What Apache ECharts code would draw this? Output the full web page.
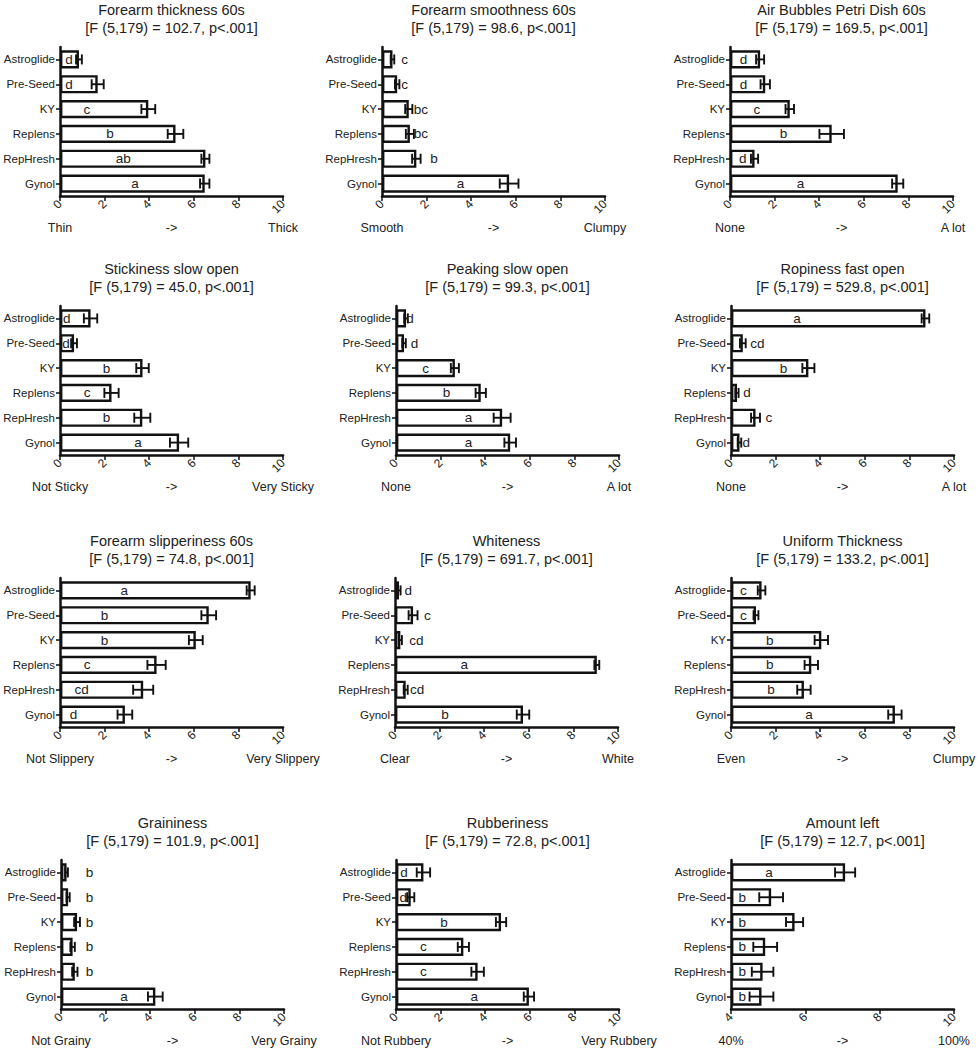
<!DOCTYPE html>
<html><head><meta charset="utf-8">
<script src="https://cdn.jsdelivr.net/npm/echarts@6/dist/echarts.min.js"></script>
<style>html,body{margin:0;padding:0;background:#fff}#c{width:978px;height:1050px}</style>
</head><body><div id="c"></div><script>
// ---------------- DATA ----------------
const categories = ['Astroglide', 'Pre-Seed', 'KY', 'Replens', 'RepHresh', 'Gynol'];
const xTicks = [0, 2, 4, 6, 8, 10];
const amountTicks = [4, 6, 8, 10];

const titles = ['Forearm thickness 60s', 'Forearm smoothness 60s', 'Air Bubbles Petri Dish 60s',
  'Stickiness slow open', 'Peaking slow open', 'Ropiness fast open',
  'Forearm slipperiness 60s', 'Whiteness', 'Uniform Thickness',
  'Graininess', 'Rubberiness', 'Amount left'];
const fStats = ['102.7', '98.6', '169.5', '45.0', '99.3', '529.8', '74.8', '691.7', '133.2', '101.9', '72.8', '12.7'];
const lowLabels = ['Thin', 'Smooth', 'None', 'Not Sticky', 'None', 'None', 'Not Slippery', 'Clear', 'Even', 'Not Grainy', 'Not Rubbery', '40%'];
const highLabels = ['Thick', 'Clumpy', 'A lot', 'Very Sticky', 'A lot', 'A lot', 'Very Slippery', 'White', 'Clumpy', 'Very Grainy', 'Very Rubbery', '100%'];

const thicknessMean = [0.85, 1.69, 3.96, 5.18, 6.52, 6.49];
const thicknessErr = [0.13, 0.27, 0.31, 0.35, 0.18, 0.21];
const thicknessLetters = ['d', 'd', 'c', 'b', 'ab', 'a'];
const thicknessLetterX = [0.4, 0.4, 1.2, 2.24, 2.84, 3.36];

const smoothMean = [0.47, 0.68, 1.2, 1.25, 1.54, 5.7];
const smoothErr = [0.08, 0.1, 0.16, 0.18, 0.19, 0.42];
const smoothLetters = ['c', 'c', 'bc', 'bc', 'b', 'a'];
const smoothLetterX = [1.02, 1.02, 1.74, 1.74, 2.33, 3.52];

const bubblesMean = [1.35, 1.58, 2.68, 4.56, 1.1, 7.52];
const bubblesErr = [0.18, 0.21, 0.19, 0.55, 0.16, 0.25];
const bubblesLetters = ['d', 'd', 'c', 'b', 'd', 'a'];
const bubblesLetterX = [0.6, 0.6, 1.2, 2.4, 0.57, 3.16];

const stickyMean = [1.37, 0.63, 3.7, 2.31, 3.69, 5.34];
const stickyErr = [0.3, 0.13, 0.28, 0.32, 0.36, 0.41];
const stickyLetters = ['d', 'd', 'b', 'c', 'b', 'a'];
const stickyLetterX = [0.3, 0.27, 2.09, 1.22, 2.09, 3.5];

const peakMean = [0.45, 0.36, 2.64, 3.8, 4.76, 5.12];
const peakErr = [0.08, 0.08, 0.18, 0.23, 0.38, 0.26];
const peakLetters = ['d', 'd', 'c', 'b', 'a', 'a'];
const peakLetterX = [0.63, 0.83, 1.33, 2.27, 3.25, 3.25];

const ropeMean = [8.72, 0.53, 3.47, 0.27, 1.1, 0.38];
const ropeErr = [0.17, 0.13, 0.27, 0.07, 0.2, 0.08];
const ropeLetters = ['a', 'cd', 'b', 'd', 'c', 'd'];
const ropeLetterX = [2.96, 1.18, 2.35, 0.72, 1.7, 0.68];

const slipMean = [8.55, 6.67, 6.09, 4.33, 3.73, 2.91];
const slipErr = [0.18, 0.33, 0.31, 0.41, 0.45, 0.33];
const slipLetters = ['a', 'b', 'b', 'c', 'cd', 'd'];
const slipLetterX = [2.88, 1.99, 1.99, 1.22, 0.97, 0.6];

const whiteMean = [0.18, 0.81, 0.24, 9.05, 0.48, 5.74];
const whiteErr = [0.07, 0.2, 0.07, 0.11, 0.09, 0.28];
const whiteLetters = ['d', 'c', 'cd', 'a', 'cd', 'b'];
const whiteLetterX = [0.59, 1.45, 0.96, 3.1, 0.99, 2.24];

const uniformMean = [1.37, 1.12, 4.05, 3.6, 3.27, 7.35];
const uniformErr = [0.17, 0.11, 0.3, 0.3, 0.3, 0.3];
const uniformLetters = ['c', 'c', 'b', 'b', 'b', 'a'];
const uniformLetterX = [0.55, 0.55, 1.74, 1.74, 1.79, 3.5];

const grainMean = [0.25, 0.32, 0.72, 0.52, 0.62, 4.23];
const grainErr = [0.06, 0.07, 0.13, 0.1, 0.12, 0.33];
const grainLetters = ['b', 'b', 'b', 'b', 'b', 'a'];
const grainLetterX = [1.28, 1.28, 1.28, 1.28, 1.28, 2.83];

const rubberMean = [1.23, 0.66, 4.71, 3.02, 3.66, 5.96];
const rubberErr = [0.3, 0.16, 0.23, 0.25, 0.28, 0.23];
const rubberLetters = ['d', 'd', 'b', 'c', 'c', 'a'];
const rubberLetterX = [0.36, 0.33, 2.15, 1.23, 1.23, 3.51];

const amountMean = [7.07, 5.08, 5.71, 4.92, 4.85, 4.82];
const amountErr = [0.27, 0.32, 0.23, 0.32, 0.29, 0.32];
const amountLetters = ['a', 'b', 'b', 'b', 'b', 'b'];
const amountLetterX = [5.02, 4.3, 4.3, 4.3, 4.3, 4.3];

// ---------------- LAYOUT ----------------
const gridLefts = [60, 382, 730, 60, 396, 731, 60, 395, 731, 61, 396, 731];
const rowTops = [47, 306, 578, 860];
const gridW = 223, gridH = 149;

const panels = [
  [thicknessMean, thicknessErr, thicknessLetters, thicknessLetterX],
  [smoothMean, smoothErr, smoothLetters, smoothLetterX],
  [bubblesMean, bubblesErr, bubblesLetters, bubblesLetterX],
  [stickyMean, stickyErr, stickyLetters, stickyLetterX],
  [peakMean, peakErr, peakLetters, peakLetterX],
  [ropeMean, ropeErr, ropeLetters, ropeLetterX],
  [slipMean, slipErr, slipLetters, slipLetterX],
  [whiteMean, whiteErr, whiteLetters, whiteLetterX],
  [uniformMean, uniformErr, uniformLetters, uniformLetterX],
  [grainMean, grainErr, grainLetters, grainLetterX],
  [rubberMean, rubberErr, rubberLetters, rubberLetterX],
  [amountMean, amountErr, amountLetters, amountLetterX]
];

const INK = '#111';
const FONT = '"Liberation Sans", Arial, Helvetica, sans-serif';

const grid = [], xAxis = [], yAxis = [], series = [], graphic = [];

panels.forEach((p, i) => {
  const [mean, err, letters, letterX] = p;
  const left = gridLefts[i];
  const top = rowTops[Math.floor(i / 3)];
  const ticks = (i === 11) ? amountTicks : xTicks;
  const xmin = ticks[0], xmax = ticks[ticks.length - 1];
  grid.push({ left: left, top: top, width: gridW, height: gridH, containLabel: false, outerBoundsMode: 'none' });
  xAxis.push({
    type: 'value', gridIndex: i, min: xmin, max: xmax, interval: 2, startValue: xmin,
    axisLine: { show: true, onZero: false, lineStyle: { color: INK, width: 2.5 } },
    axisTick: { show: true, length: 5, lineStyle: { color: INK, width: 1.5 } },
    splitLine: { show: false },
    axisLabel: { rotate: 45, fontSize: 12, color: '#222', margin: 6, fontFamily: FONT }
  });
  yAxis.push({
    type: 'category', gridIndex: i, data: categories, inverse: true,
    axisLine: { show: true, lineStyle: { color: INK, width: 2.5 } },
    axisTick: { show: true, alignWithLabel: true, length: 4, lineStyle: { color: INK, width: 1.5 } },
    axisLabel: { fontSize: 11.5, color: '#222', margin: 5, fontFamily: FONT },
    splitLine: { show: false }
  });
  series.push({
    type: 'bar', xAxisIndex: i, yAxisIndex: i, data: mean, barWidth: '73%',
    itemStyle: { color: '#fff', borderColor: INK, borderWidth: 2.4 },
    silent: true, animation: false, z: 2
  });
  series.push({
    type: 'custom', xAxisIndex: i, yAxisIndex: i, z: 3, animation: false, silent: true,
    encode: { x: 0, y: 1 },
    data: mean.map((m, k) => [m, k, err[k]]),
    renderItem: function (params, api) {
      const v = api.value(0), c = api.value(1), e = api.value(2);
      const a = api.coord([v - e, c]), b = api.coord([v + e, c]);
      const h = 5;
      const st = { stroke: INK, lineWidth: 1.9 };
      return { type: 'group', children: [
        { type: 'line', shape: { x1: a[0], y1: a[1], x2: b[0], y2: b[1] }, style: st },
        { type: 'line', shape: { x1: a[0], y1: a[1] - h, x2: a[0], y2: a[1] + h }, style: st },
        { type: 'line', shape: { x1: b[0], y1: b[1] - h, x2: b[0], y2: b[1] + h }, style: st }
      ] };
    }
  });
  series.push({
    type: 'custom', xAxisIndex: i, yAxisIndex: i, z: 4, animation: false, silent: true,
    encode: { x: 0, y: 1 },
    data: letterX.map((x, k) => [x, k]),
    renderItem: function (params, api) {
      const pt = api.coord([api.value(0), api.value(1)]);
      return { type: 'text', x: pt[0], y: pt[1], style: {
        text: letters[params.dataIndex], fill: '#222', font: '13.5px ' + FONT,
        align: 'center', verticalAlign: 'middle', textAlign: 'center', textVerticalAlign: 'middle' } };
    }
  });
  const cx = left + gridW / 2;
  graphic.push({ type: 'text', x: cx, y: top - 37, silent: true,
    style: { text: titles[i], fill: '#222', font: '14.5px ' + FONT, align: 'center', verticalAlign: 'middle', textAlign: 'center', textVerticalAlign: 'middle' } });
  graphic.push({ type: 'text', x: cx, y: top - 19, silent: true,
    style: { text: '[F (5,179) = ' + fStats[i] + ', p<.001]', fill: '#222', font: '14.5px ' + FONT, align: 'center', verticalAlign: 'middle', textAlign: 'center', textVerticalAlign: 'middle' } });
  const by = top + gridH + 32;
  [[left, lowLabels[i]], [cx, '->'], [left + gridW, highLabels[i]]].forEach(([x, t]) => {
    graphic.push({ type: 'text', x: x, y: by, silent: true,
      style: { text: t, fill: '#222', font: '12.5px ' + FONT, align: 'center', verticalAlign: 'middle', textAlign: 'center', textVerticalAlign: 'middle' } });
  });
});

const chart = echarts.init(document.getElementById('c'), null, { renderer: 'svg', width: 978, height: 1050 });
chart.setOption({
  backgroundColor: '#fff',
  animation: false,
  textStyle: { fontFamily: FONT },
  grid: grid, xAxis: xAxis, yAxis: yAxis, series: series, graphic: graphic
});
</script></body></html>
